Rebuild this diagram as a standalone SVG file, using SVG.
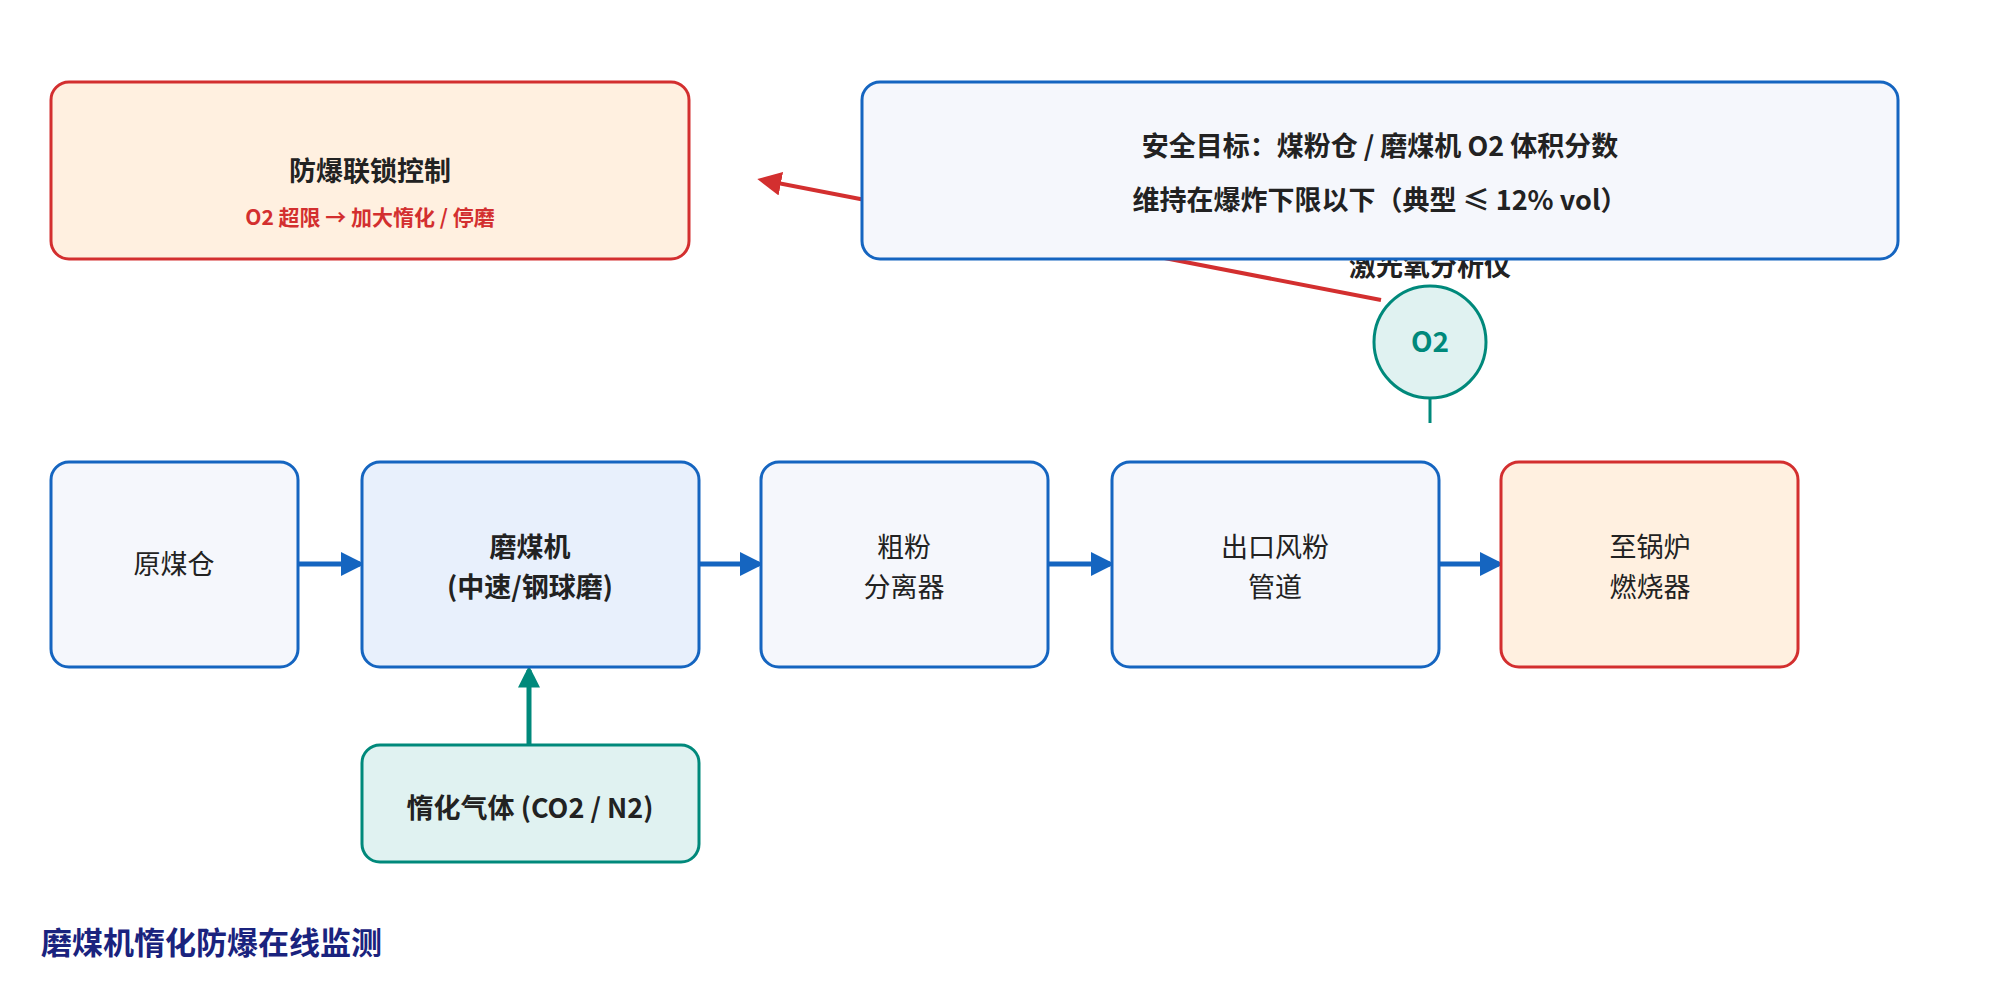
<svg xmlns="http://www.w3.org/2000/svg" width="2000" height="1000" viewBox="0 0 2000 1000">
<style>
text{font-family:"Noto Sans CJK SC","Noto Sans",sans-serif;text-anchor:middle;}
.n{fill:#f5f7fc;stroke:#1565c0;stroke-width:3}
.t{font-size:27px;fill:#222}
.b{font-weight:bold}
</style>
<defs>
<marker id="ab" markerWidth="10" markerHeight="10" refX="8" refY="5" orient="auto" markerUnits="userSpaceOnUse" viewBox="0 0 10 10"><path d="M0,0L10,5L0,10z" fill="#1565c0"/></marker>
<marker id="ag" viewBox="0 0 10 10" refX="8" refY="5" markerWidth="22" markerHeight="22" orient="auto" markerUnits="userSpaceOnUse"><path d="M0,0L10,5L0,10z" fill="#00897b"/></marker>
<marker id="ar" viewBox="0 0 10 10" refX="8" refY="5" markerWidth="24" markerHeight="24" orient="auto" markerUnits="userSpaceOnUse"><path d="M0,0L10,5L0,10z" fill="#d32f2f"/></marker>
<marker id="abl" viewBox="0 0 10 10" refX="8" refY="5" markerWidth="24" markerHeight="24" orient="auto" markerUnits="userSpaceOnUse"><path d="M0,0L10,5L0,10z" fill="#1565c0"/></marker>
</defs>
<rect width="2000" height="1000" fill="#fff"/>
<g id="connectors">
<line x1="298" y1="564" x2="360" y2="564" stroke="#1565c0" stroke-width="5" marker-end="url(#abl)"/>
<line x1="699" y1="564" x2="759" y2="564" stroke="#1565c0" stroke-width="5" marker-end="url(#abl)"/>
<line x1="1048" y1="564" x2="1110" y2="564" stroke="#1565c0" stroke-width="5" marker-end="url(#abl)"/>
<line x1="1439" y1="564" x2="1499" y2="564" stroke="#1565c0" stroke-width="5" marker-end="url(#abl)"/>
<line x1="529" y1="745" x2="529" y2="670" stroke="#00897b" stroke-width="5" marker-end="url(#ag)"/>
<line x1="1430" y1="398" x2="1430" y2="423" stroke="#00897b" stroke-width="3"/>
<line x1="1381" y1="300" x2="762" y2="180" stroke="#d32f2f" stroke-width="4" marker-end="url(#ar)"/>
</g>
<g id="o2">
<text x="1430" y="276" class="t b" font-size="25">激光氧分析仪</text>
<circle cx="1430" cy="342" r="56" fill="#e0f2f1" stroke="#00897b" stroke-width="3"/>
<text x="1430" y="352" font-size="28" font-weight="bold" fill="#00897b">O2</text>
</g>
<g id="target">
<rect x="862" y="82" width="1036" height="177" rx="18" fill="#f5f7fc" stroke="#1565c0" stroke-width="3"/>
<text x="1380" y="156" class="t b" font-size="26">安全目标：煤粉仓 / 磨煤机 O2 体积分数</text>
<text x="1380" y="210" class="t b" font-size="26">维持在爆炸下限以下（典型 ≤ 12% vol）</text>
</g>
<g id="interlock">
<rect x="51" y="82" width="638" height="177" rx="18" fill="#fff0e0" stroke="#d32f2f" stroke-width="3"/>
<text x="370" y="181" class="t b" font-size="27">防爆联锁控制</text>
<text x="370" y="225" font-size="21" font-weight="bold" fill="#d32f2f">O2 超限 → 加大惰化 / 停磨</text>
</g>
<g id="n1"><rect class="n" x="51" y="462" width="247" height="205" rx="18"/><text class="t" x="174" y="574">原煤仓</text></g>
<g id="n2"><rect x="362" y="462" width="337" height="205" rx="18" fill="#e8f0fc" stroke="#1565c0" stroke-width="3"/><text class="t b" x="530" y="557">磨煤机</text><text class="t b" x="530" y="597">(中速/钢球磨)</text></g>
<g id="n3"><rect class="n" x="761" y="462" width="287" height="205" rx="18"/><text class="t" x="904" y="557">粗粉</text><text class="t" x="904" y="597">分离器</text></g>
<g id="n4"><rect class="n" x="1112" y="462" width="327" height="205" rx="18"/><text class="t" x="1275" y="557">出口风粉</text><text class="t" x="1275" y="597">管道</text></g>
<g id="n5"><rect x="1501" y="462" width="297" height="205" rx="18" fill="#fff0e0" stroke="#d32f2f" stroke-width="3"/><text class="t" x="1650" y="557">至锅炉</text><text class="t" x="1650" y="597">燃烧器</text></g>
<g id="inert"><rect x="362" y="745" width="337" height="117" rx="18" fill="#e0f2f1" stroke="#00897b" stroke-width="3"/><text class="t b" x="530" y="818" font-size="25">惰化气体 (CO2 / N2)</text></g>
<text x="41" y="954" font-size="31" font-weight="bold" fill="#1a237e" style="text-anchor:start">磨煤机惰化防爆在线监测</text>
</svg>
